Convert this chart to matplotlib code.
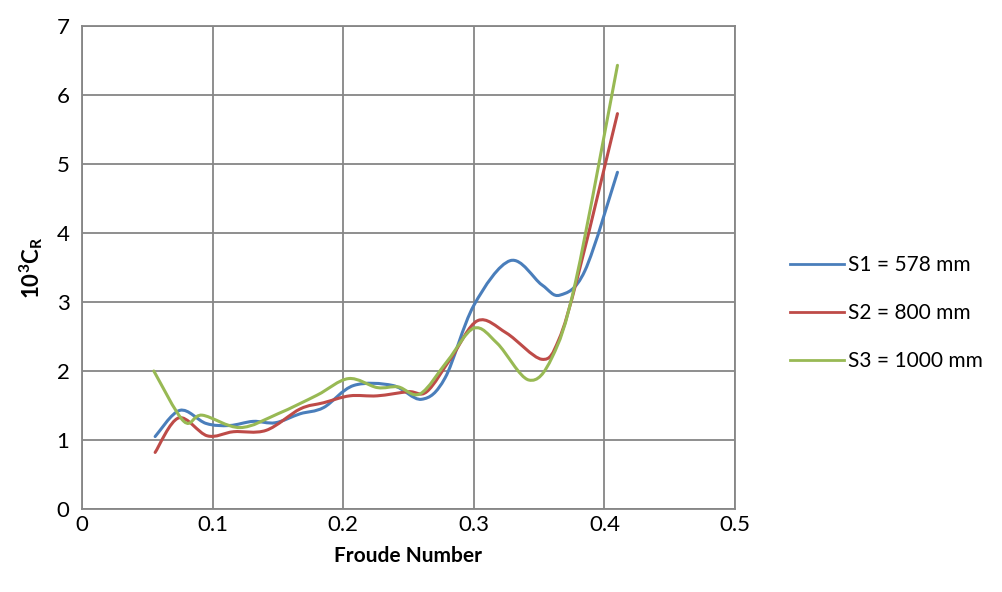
import numpy as np
import matplotlib.pyplot as plt
from matplotlib.path import Path
from matplotlib.patches import PathPatch
from matplotlib.lines import Line2D

plt.rcParams['font.family'] = ['Lato', 'DejaVu Sans']
plt.rcParams['mathtext.fontset'] = 'custom'
plt.rcParams['mathtext.rm'] = 'Lato:bold'
plt.rcParams['mathtext.bf'] = 'Lato:bold'

# Froude number / 10^3 C_R readings for each spacing
fr_s1 = [0.056, 0.075, 0.095, 0.113, 0.131, 0.148, 0.167, 0.185, 0.208, 0.238,
         0.260, 0.278, 0.300, 0.328, 0.352, 0.366, 0.385, 0.410]
cr_s1 = [1.05, 1.43, 1.24, 1.21, 1.27, 1.25, 1.38, 1.47, 1.79, 1.79,
         1.59, 1.90, 2.95, 3.60, 3.25, 3.10, 3.45, 4.88]

fr_s2 = [0.056, 0.074, 0.096, 0.116, 0.141, 0.167, 0.185, 0.205, 0.226, 0.250,
         0.264, 0.283, 0.303, 0.325, 0.352, 0.365, 0.380, 0.410]
cr_s2 = [0.82, 1.32, 1.06, 1.12, 1.14, 1.45, 1.54, 1.64, 1.64, 1.70,
         1.70, 2.20, 2.73, 2.55, 2.17, 2.45, 3.40, 5.73]

fr_s3 = [0.055, 0.078, 0.092, 0.121, 0.150, 0.180, 0.204, 0.226, 0.242, 0.259,
         0.280, 0.300, 0.318, 0.342, 0.360, 0.378, 0.410]
cr_s3 = [2.00, 1.27, 1.36, 1.18, 1.38, 1.65, 1.89, 1.76, 1.77, 1.67,
         2.15, 2.62, 2.40, 1.87, 2.20, 3.30, 6.43]

labels = ['S1 = 578 mm', 'S2 = 800 mm', 'S3 = 1000 mm']
colors = ['#4A7EBB', '#BE4B48', '#98B954']


def smooth_path(x, y):
    """Bezier path like Excel's smoothed line."""
    p = np.column_stack([x, y])
    n = len(p)
    verts = [p[0]]
    codes = [Path.MOVETO]
    for i in range(n - 1):
        p0 = p[i - 1] if i > 0 else p[i]
        p3 = p[i + 2] if i + 2 < n else p[i + 1]
        c1 = p[i] + (p[i + 1] - p0) / 6.0
        c2 = p[i + 1] - (p3 - p[i]) / 6.0
        verts += [c1, c2, p[i + 1]]
        codes += [Path.CURVE4] * 3
    return Path(verts, codes)


fig = plt.figure(figsize=(10.02, 5.92), dpi=100)
ax = fig.add_axes([82 / 1002, 1 - 509 / 592, (735 - 82) / 1002, (509 - 26) / 592])

series = [(fr_s1, cr_s1), (fr_s2, cr_s2), (fr_s3, cr_s3)]
handles = []
for (x, y), c, lab in zip(series, colors, labels):
    ax.add_patch(PathPatch(smooth_path(x, y), fill=False, edgecolor=c,
                           linewidth=2.2, capstyle='round', joinstyle='round', zorder=3))
    handles.append(Line2D([], [], color=c, linewidth=2.0, label=lab))

ax.set_xlim(0, 0.5)
ax.set_ylim(0, 7)
ax.set_xticks(np.arange(0, 0.51, 0.1))
ax.set_xticklabels(['0', '0.1', '0.2', '0.3', '0.4', '0.5'])
ax.set_yticks(range(0, 8))
ax.grid(True, color='#868686', linewidth=1.3)
for s in ax.spines.values():
    s.set_color('#868686')
    s.set_linewidth(1.3)
ax.tick_params(length=0, labelsize=16)
ax.tick_params(axis='x', pad=4)
ax.tick_params(axis='y', pad=9)
ax.set_axisbelow(True)

ax.set_xlabel('Froude Number', fontsize=15, fontweight='bold', labelpad=8)
ax.set_ylabel(r'$\mathbf{10^{3}C_{R}}$', fontsize=16, labelpad=8)

fig.legend(handles=handles, loc='center left', bbox_to_anchor=(790 / 1002, 1 - 313 / 592),
           frameon=False, fontsize=15, handlelength=2.6, handletextpad=0.2,
           labelspacing=1.35, borderpad=0, borderaxespad=0)

fig.savefig('out.png', dpi=100)
